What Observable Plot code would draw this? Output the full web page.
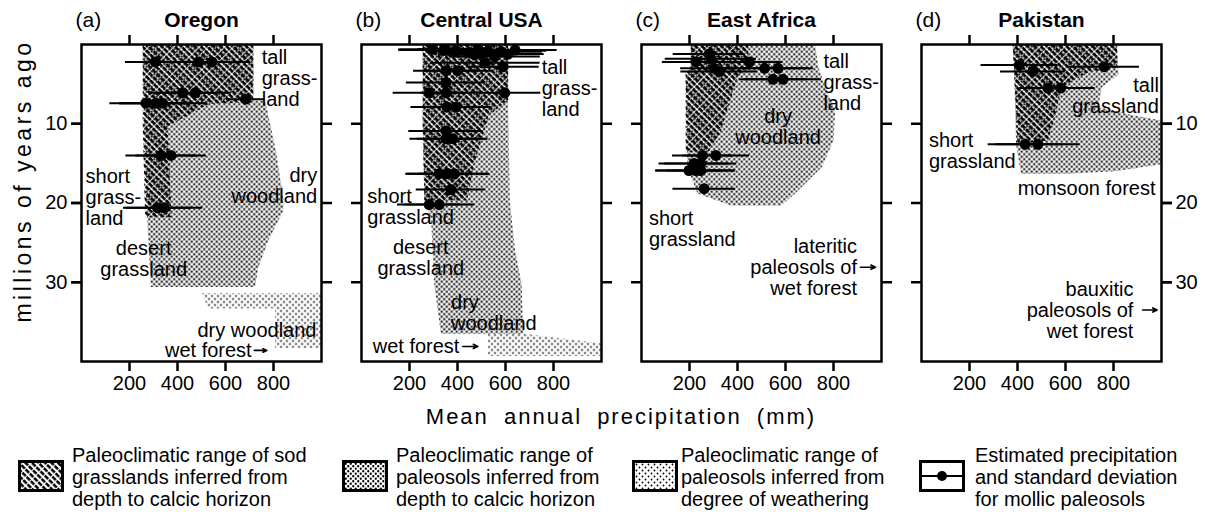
<!DOCTYPE html>
<html><head><meta charset="utf-8">
<script src="https://cdn.jsdelivr.net/npm/d3@7"></script>
<script src="https://cdn.jsdelivr.net/npm/@observablehq/plot@0.6"></script>
<style>
body{margin:0;background:#fff;font-family:"Liberation Sans",Arial,sans-serif;color:#000;}
#wrap{position:relative;width:1205px;height:512px;overflow:hidden;}
.leg{position:absolute;font-size:20px;line-height:22px;white-space:nowrap;}
.sw{position:absolute;}
</style></head><body>
<svg width="0" height="0" style="position:absolute">
<defs>
<pattern id="pSod" width="6" height="4.6" patternUnits="userSpaceOnUse" patternTransform="rotate(45)">
<rect x="0" y="0" width="4.9" height="2.5" fill="#000"/>
</pattern>
<pattern id="pCalcic" width="5" height="5" patternUnits="userSpaceOnUse">
<circle cx="1.25" cy="1.25" r="1.15" fill="#000"/><circle cx="3.75" cy="3.75" r="1.15" fill="#000"/>
</pattern>
<pattern id="pWeather" width="6" height="6" patternUnits="userSpaceOnUse">
<circle cx="1.5" cy="1.5" r="0.9" fill="#000"/><circle cx="4.5" cy="4.5" r="0.9" fill="#000"/>
</pattern>
</defs></svg>
<div id="wrap"><div id="chart"></div></div>
<script>
// ---------- panels & axes ----------
const panelKeys = ["a", "b", "c", "d"];
const panelLetters = ["(a)", "(b)", "(c)", "(d)"];
const panelNames = ["Oregon", "Central USA", "East Africa", "Pakistan"];
const xTicks = [200, 400, 600, 800];
const yTicks = [10, 20, 30];
const xLabel = "Mean annual precipitation (mm)";
const yLabel = "millions of years ago";

// ---------- shaded ranges: [precipitation mm, millions of years ago] ----------
const oregonWeathering = [[499,31.4],[1000,31.4],[1000,38.3],[807,38.3],[807,33.3],[530,33.3]];
const oregonCalcic = [[255,0],[716,0],[716,7.1],[765,7.1],[810,13.4],[842,19.7],[840,21],[779,24.7],[737,28.1],[723,30.6],[289,30.6],[270,20],[258,7]];
const oregonSod = [[255,0],[716,0],[716,7.3],[530,7.5],[360,10.3],[375,21.8],[265,21.8],[255,10]];

const centralWeathering = [[527,36.5],[674,36.5],[1000,37.7],[1000,39.3],[527,39.3]];
const centralCalcic = [[255,0],[611,0],[611,8],[618,19.7],[640,26],[667,30.2],[674,36.5],[331,36.5],[303,30.2],[290,22],[262,19.7],[255,10]];
const centralSod = [[255,0],[611,0],[611,7],[530,9],[470,15],[440,19.7],[262,19.7],[255,10]];

const africaCalcic = [[205,0],[723,0],[737,2.8],[765,5.4],[807,8.4],[800,12.1],[751,15.5],[640,18.8],[583,20.3],[373,20.3],[233,18.8],[191,15.5],[184,3.7],[205,3]];
const africaSod = [[205,0],[445,0],[445,3],[400,4.2],[370,7],[330,11],[280,13.5],[184,13.6],[184,3.7],[205,3]];

const pakistanCalcic = [[380,0],[815,0],[821,3.8],[751,5.4],[737,7.9],[890,9],[1000,9.6],[1000,15.1],[807,16],[611,16.3],[415,16.3],[394,12.6],[387,4.2]];
const pakistanSod = [[380,0],[815,0],[815,2.9],[695,3.5],[583,5.4],[555,9.2],[527,12.1],[400,12.6],[387,4.2]];

// ---------- estimated precipitation ± standard deviation ----------
const oregonAge    = [2.2, 2.2, 2.2, 6.1, 6.1, 6.9, 7.4, 7.4, 7.4, 14.0, 14.0, 20.6, 20.6];
const oregonPrecip = [308, 488, 544, 422, 474, 684, 268, 310, 338, 331, 373, 317, 345];
const oregonSD     = [125, 100, 155, 135, 150, 80, 150, 150, 180, 146, 147, 142, 160];

const centralAge    = [0.6, 0.6, 0.8, 0.7, 1.0, 1.3, 1.1, 0.8, 1.5, 0.9, 1.2, 0.7, 2.3, 2.8, 3.3, 3.3, 4.8, 6.1, 6.1, 6.1, 7.9, 7.9, 10.9, 11.9, 11.9, 16.3, 16.3, 16.3, 18.3, 20.2, 20.2];
const centralPrecip = [296, 345, 394, 485, 450, 471, 499, 527, 555, 583, 611, 640, 516, 590, 352, 401, 352, 282, 352, 597, 356, 394, 352, 352, 380, 324, 359, 387, 373, 282, 324];
const centralSD     = [140, 110, 120, 330, 130, 150, 150, 245, 190, 170, 150, 130, 228, 150, 135, 145, 165, 150, 105, 150, 150, 145, 155, 150, 147, 140, 170, 147, 145, 132, 147];

const africaAge    = [1.2, 2.2, 1.8, 2.2, 3.0, 3.4, 3.0, 3.0, 4.4, 4.4, 14.0, 14.0, 15.0, 15.0, 15.9, 15.9, 15.9, 18.2];
const africaPrecip = [282, 227, 289, 450, 303, 324, 513, 569, 548, 590, 254, 310, 219, 247, 198, 227, 247, 261];
const africaSD     = [150, 140, 190, 140, 140, 160, 180, 147, 140, 160, 125, 140, 146, 150, 140, 165, 140, 130];

const pakistanAge    = [2.6, 2.8, 3.4, 5.5, 5.5, 12.6, 12.6];
const pakistanPrecip = [408, 761, 464, 527, 580, 432, 485];
const pakistanSD     = [160, 147, 135, 120, 143, 154, 175];

// ---------- annotations ----------
const labelPanel = ["a","a","a","a","a","a", "b","b","b","b","b", "c","c","c","c", "d","d","d","d"];
const labelText = [
  "tall\ngrass-\nland", "short\ngrass-\nland", "dry\nwoodland", "desert\ngrassland", "dry woodland", "wet forest",
  "tall\ngrass-\nland", "short\ngrassland", "desert\ngrassland", "dry\nwoodland", "wet forest",
  "tall\ngrass-\nland", "dry\nwoodland", "short\ngrassland", "lateritic\npaleosols of\nwet forest",
  "tall\ngrassland", "short\ngrassland", "monsoon forest", "bauxitic\npaleosols of\nwet forest"];
const labelPrecip = [751, 17, 982, 259, 979, 709, 751, 24, 247, 373, 408, 758, 569, 31, 898, 989, 31, 975, 883];
const labelAge = [4.25, 19.3, 17.8, 27.0, 36.1, 38.6, 5.5, 20.5, 26.9, 33.9, 38.1, 4.8, 10.4, 23.2, 28.1, 6.5, 13.4, 18.2, 33.5];
const labelAlign = ["start","start","end","middle","end","end", "start","start","middle","start","end", "start","middle","start","end", "end","start","end","end"];

const arrowPanel = ["a", "b", "c", "d"];
const arrowFrom = [720, 422, 912, 921];
const arrowTo = [772, 485, 975, 982];
const arrowAge = [38.6, 38.1, 28.1, 33.5];

// ---------- build tables ----------
function polyRows(list, kind) {
  const rows = [];
  list.forEach(([panel, pts], i) => pts.forEach(([mm, age]) => rows.push({panel, id: kind + i, mm, age})));
  return rows;
}
const weatherRows = polyRows([["a", oregonWeathering], ["b", centralWeathering]], "w");
const calcicRows = polyRows([["a", oregonCalcic], ["b", centralCalcic], ["c", africaCalcic], ["d", pakistanCalcic]], "c");
const sodRows = polyRows([["a", oregonSod], ["b", centralSod], ["c", africaSod], ["d", pakistanSod]], "s");

function ptRows(panel, ages, mms, sds) { return ages.map((age, i) => ({panel, age, mm: mms[i], sd: sds[i]})); }
const points = [
  ...ptRows("a", oregonAge, oregonPrecip, oregonSD),
  ...ptRows("b", centralAge, centralPrecip, centralSD),
  ...ptRows("c", africaAge, africaPrecip, africaSD),
  ...ptRows("d", pakistanAge, pakistanPrecip, pakistanSD)];

const labels = labelText.map((t, i) => ({panel: labelPanel[i], text: t, mm: labelPrecip[i], age: labelAge[i], align: labelAlign[i]}));
const arrows = arrowPanel.map((p, i) => ({panel: p, x1: arrowFrom[i], x2: arrowTo[i], age: arrowAge[i]}));
const titles = panelKeys.map((p, i) => ({panel: p, letter: panelLetters[i], name: panelNames[i]}));

const textMarks = ["start", "middle", "end"].map(a => Plot.text(labels.filter(d => d.align === a), {
  fx: "panel", x: "mm", y: "age", text: "text", textAnchor: a, fontSize: 20, lineHeight: 1.05, fill: "black"}));

const tickBase = {tickSize: 10, strokeWidth: 2.5, label: null, fontSize: 20};

const svg = Plot.plot({
  width: 1205, height: 440,
  marginTop: 44, marginBottom: 79, marginLeft: 81, marginRight: 44,
  style: {fontFamily: "'Liberation Sans', Arial, sans-serif", fontSize: "20px", color: "black", background: "white"},
  fx: {domain: panelKeys, axis: null, label: null, paddingInner: 1/7, paddingOuter: 0, round: false},
  x: {domain: [0, 1000]},
  y: {domain: [0, 40], reverse: true},
  marks: [
    Plot.line(weatherRows, {fx: "panel", x: "mm", y: "age", z: "id", fill: "url(#pWeather)", stroke: "none", curve: "linear-closed"}),
    Plot.line(calcicRows, {fx: "panel", x: "mm", y: "age", z: "id", fill: "url(#pCalcic)", stroke: "none", curve: "linear-closed"}),
    Plot.line(sodRows, {fx: "panel", x: "mm", y: "age", z: "id", fill: "url(#pSod)", stroke: "none", curve: "linear-closed"}),
    Plot.ruleY(points, {fx: "panel", y: "age", x1: d => d.mm - d.sd, x2: d => d.mm + d.sd, stroke: "black", strokeWidth: 2}),
    Plot.dot(points, {fx: "panel", x: "mm", y: "age", r: 5.5, fill: "black", stroke: "none"}),
    ...textMarks,
    Plot.arrow(arrows, {fx: "panel", x1: "x1", x2: "x2", y1: "age", y2: "age", stroke: "black", strokeWidth: 1.6, headLength: 7, headAngle: 50}),
    Plot.axisY({...tickBase, ticks: yTicks, anchor: "left", tickFormat: () => "", facetAnchor: null}),
    Plot.axisY({...tickBase, ticks: yTicks, anchor: "right", tickFormat: () => "", facetAnchor: null}),
    Plot.axisY({...tickBase, ticks: yTicks, anchor: "left", facetAnchor: "left", tickPadding: 4}),
    Plot.axisY({...tickBase, ticks: yTicks, anchor: "right", facetAnchor: "right", tickPadding: 4}),
    Plot.axisX({...tickBase, ticks: xTicks, anchor: "top", tickFormat: () => "", facetAnchor: null}),
    Plot.axisX({...tickBase, ticks: xTicks, anchor: "bottom", facetAnchor: null, tickPadding: 4}),
    Plot.frame({stroke: "black", strokeWidth: 2.5}),
    Plot.text(titles, {fx: "panel", frameAnchor: "top-left", lineAnchor: "middle", text: "letter", textAnchor: "start", dx: -6, dy: -24, fontSize: 21}),
    Plot.text(titles, {fx: "panel", frameAnchor: "top", lineAnchor: "middle", text: "name", dy: -24, fontSize: 21, fontWeight: "bold"})
  ]
});

const s = d3.select(svg);
s.append("text").attr("x", 621).attr("y", 424).attr("text-anchor", "middle")
  .attr("font-size", 22).attr("letter-spacing", "2px").attr("word-spacing", "7px").attr("fill", "black").text(xLabel);
s.append("text").attr("transform", "translate(31,181) rotate(-90)").attr("text-anchor", "middle")
  .attr("font-size", 23).attr("letter-spacing", "3.5px").attr("fill", "black").text(yLabel);

const wrap = document.getElementById("wrap");
document.getElementById("chart").appendChild(svg);

// ---------- legend (below the chart) ----------
const legendText = [
  ["Paleoclimatic range of sod", "grasslands inferred from", "depth to calcic horizon"],
  ["Paleoclimatic range of", "paleosols inferred from", "depth to calcic horizon"],
  ["Paleoclimatic range of", "paleosols inferred from", "degree of weathering"],
  ["Estimated precipitation", "and standard deviation", "for mollic paleosols"]];
const legendFill = ["url(#pSod)", "url(#pCalcic)", "url(#pWeather)", null];
const legendSwatchX = [18, 342, 632, 919];
const legendTextX = [72, 396, 681, 975];

legendText.forEach((lines, i) => {
  const sw = d3.select(wrap).append("svg").attr("class", "sw")
    .attr("width", 46).attr("height", 32)
    .style("left", legendSwatchX[i] + "px").style("top", "460px");
  sw.append("rect").attr("x", 1.5).attr("y", 1.5).attr("width", 43).attr("height", 29)
    .attr("fill", legendFill[i] || "white").attr("stroke", "black").attr("stroke-width", 3);
  if (!legendFill[i]) {
    sw.append("line").attr("x1", 2).attr("x2", 44).attr("y1", 16).attr("y2", 16).attr("stroke", "black").attr("stroke-width", 2);
    sw.append("circle").attr("cx", 23).attr("cy", 16).attr("r", 5).attr("fill", "black");
  }
  d3.select(wrap).append("div").attr("class", "leg")
    .style("left", legendTextX[i] + "px").style("top", "444px")
    .html(lines.join("<br>"));
});
</script>
</body></html>
